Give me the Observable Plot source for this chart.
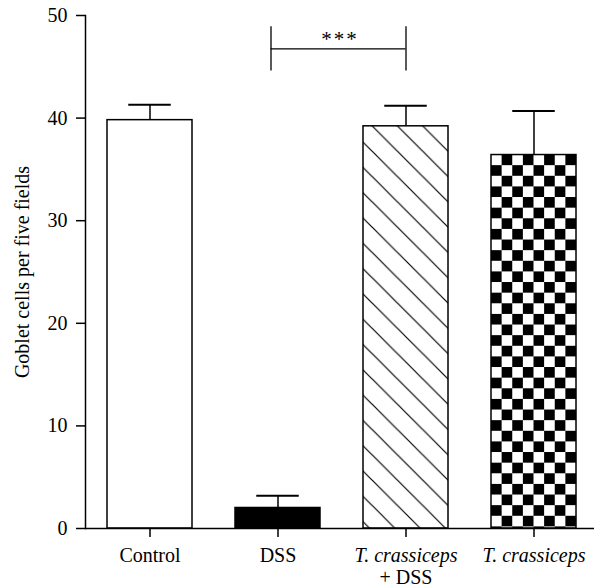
<!DOCTYPE html>
<html><head><meta charset="utf-8">
<script src="https://cdn.jsdelivr.net/npm/d3@7"></script>
<script src="https://cdn.jsdelivr.net/npm/@observablehq/plot@0.6"></script>
<style>body{margin:0;background:#fff}</style>
</head><body><div id="chart"></div>
<script>
// ---- data ----
const categories = ["Control", "DSS", "T. crassiceps + DSS", "T. crassiceps"];
const means = [39.8, 2.0, 39.2, 36.4];
const upperErr = [41.3, 3.2, 41.2, 40.7];
const fills = ["white", "black", "url(#hatch)", "url(#checker)"];
const labelLine1 = ["Control", "DSS", "T. crassiceps", "T. crassiceps"];
const labelLine2 = ["", "", "+ DSS", ""];
const italicLabel = [false, false, true, true];
const yTicks = [0, 10, 20, 30, 40, 50];
const yLabel = "Goblet cells per five fields";
const bracketPair = ["DSS", "T. crassiceps + DSS"];
const bracketY = 46.75;
const bracketEnds = [44.6, 48.9];
const sigLabel = "***";

const rows = categories.map((c, i) => ({cat: c, mean: means[i], upper: upperErr[i], fill: fills[i]}));
const lab1 = (c) => labelLine1[categories.indexOf(c)];
const lab2 = (c) => labelLine2[categories.indexOf(c)];
const normalCats = categories.filter((c, i) => !italicLabel[i]);
const italicCats = categories.filter((c, i) => italicLabel[i]);
const twoLineCats = categories.filter((c, i) => labelLine2[i] !== "");

const FONT = "Liberation Serif";
const BW = 85; // band width in px, used for centring the bracket

const chart = Plot.plot({
  width: 594,
  height: 588,
  marginLeft: 85,
  marginRight: 0,
  marginTop: 15,
  marginBottom: 60,
  style: {fontFamily: FONT, fontSize: "20px"},
  x: {domain: categories, range: [85, 597], paddingInner: 0.336, paddingOuter: 0.168, axis: null},
  y: {domain: [0, 50], axis: null},
  marks: [
    Plot.barY(rows, {x: "cat", y: "mean", fill: "fill", stroke: "black", strokeWidth: 1.5}),
    Plot.ruleX(rows, {x: "cat", y1: "mean", y2: "upper", stroke: "black", strokeWidth: 1.5}),
    Plot.tickY(rows, {x: "cat", y: "upper", stroke: "black", strokeWidth: 2, insetLeft: 21.25, insetRight: 21.25}),
    Plot.ruleY([0], {stroke: "black", strokeWidth: 1.5}),
    Plot.frame({anchor: "left", stroke: "black", strokeWidth: 1.5}),
    Plot.axisY(yTicks, {tickSize: 9, tickPadding: 9, strokeWidth: 1.5, fontSize: 20, fontFamily: FONT,
      label: yLabel, labelAnchor: "center", labelOffset: 71, labelArrow: "none"}),
    Plot.axisX(normalCats, {tickSize: 9, tickPadding: 10, strokeWidth: 1.5, fontSize: 20, fontFamily: FONT, tickFormat: lab1, label: null}),
    Plot.axisX(italicCats, {tickSize: 9, tickPadding: 10, strokeWidth: 1.5, fontSize: 20, fontFamily: FONT, fontStyle: "italic", tickFormat: lab1, label: null}),
    Plot.axisX(twoLineCats, {tickSize: 0, tickPadding: 41, fontSize: 20, fontFamily: FONT, tickFormat: lab2, label: null}),
    // significance bracket
    Plot.ruleX([bracketPair[0]], {x: (d) => d, y1: () => bracketEnds[0], y2: () => bracketEnds[1], dx: -7, stroke: "black", strokeWidth: 1.3}),
    Plot.ruleX([bracketPair[1]], {x: (d) => d, y1: () => bracketEnds[0], y2: () => bracketEnds[1], stroke: "black", strokeWidth: 1.3}),
    Plot.ruleY([bracketY], {y: (d) => d, x1: () => bracketPair[0], x2: () => bracketPair[1],
      insetLeft: BW / 2 - 7, insetRight: BW / 2, stroke: "black", strokeWidth: 1.3}),
    Plot.text([sigLabel], {x: () => bracketPair[0], y: () => bracketY, text: (d) => d, dx: 62, dy: -3,
      lineAnchor: "bottom", fontSize: 21, fontFamily: FONT, fill: "black"})
  ]
});

// force the serif family onto every text node as a plain attribute
chart.setAttribute("font-family", FONT);
chart.querySelectorAll("text").forEach((t) => {
  t.setAttribute("font-family", FONT);
  const g = t.closest("[font-style]");
  if (g) t.setAttribute("font-style", g.getAttribute("font-style"));
  const s = t.closest("[font-size]");
  if (s) t.setAttribute("font-size", s.getAttribute("font-size"));
});
const star = [...chart.querySelectorAll("text")].find((t) => t.textContent === sigLabel);
if (star) star.setAttribute("letter-spacing", "2");

// ---- patterns for hatched and checkered bars ----
const NS = "http://www.w3.org/2000/svg";
const el = (name, attrs) => { const e = document.createElementNS(NS, name); for (const k in attrs) e.setAttribute(k, attrs[k]); return e; };
const bw = chart.scale("x").bandwidth;
const sq = bw / 8;
const hs = 25.3;
const defs = el("defs", {});
const hatch = el("pattern", {id: "hatch", patternUnits: "userSpaceOnUse", width: hs, height: hs});
hatch.appendChild(el("rect", {width: hs, height: hs, fill: "white"}));
hatch.appendChild(el("path", {d: `M0,0L${hs},${hs}M${-2},${hs - 2}L2,${hs + 2}M${hs - 2},-2L${hs + 2},2`, stroke: "black", "stroke-width": 1.2}));
const checker = el("pattern", {id: "checker", patternUnits: "userSpaceOnUse", width: 2 * sq, height: 2 * sq});
checker.appendChild(el("rect", {width: 2 * sq, height: 2 * sq, fill: "white"}));
checker.appendChild(el("rect", {x: sq, y: 0, width: sq, height: sq, fill: "black"}));
checker.appendChild(el("rect", {x: 0, y: sq, width: sq, height: sq, fill: "black"}));
defs.appendChild(hatch);
defs.appendChild(checker);
chart.insertBefore(defs, chart.firstChild);
chart.querySelectorAll("rect").forEach((r) => {
  const f = r.getAttribute("fill");
  const x = +r.getAttribute("x"), y = +r.getAttribute("y");
  if (f === "url(#hatch)") { hatch.setAttribute("x", x + 9); hatch.setAttribute("y", y); }
  if (f === "url(#checker)") { checker.setAttribute("x", x); checker.setAttribute("y", y); }
});

document.getElementById("chart").appendChild(chart);
</script>
</body></html>
